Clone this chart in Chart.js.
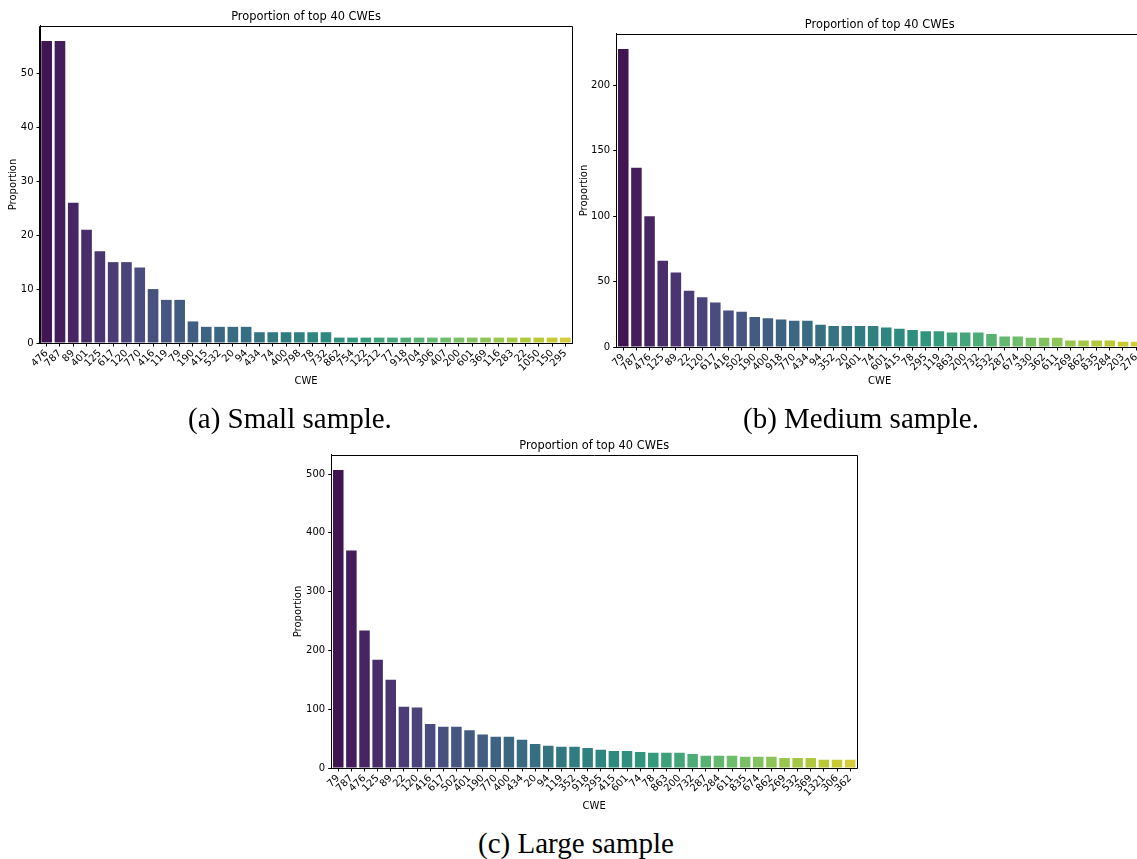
<!DOCTYPE html>
<html><head><meta charset="utf-8">
<script src="https://cdn.jsdelivr.net/npm/chart.js@4.4.1/dist/chart.umd.min.js"></script>
<style>
html,body{margin:0;padding:0;width:1137px;height:859px;overflow:hidden;background:#fff;}
canvas{position:absolute;}
.cap{position:absolute;font-family:"Liberation Serif","Times New Roman",serif;font-size:29px;line-height:29px;color:#000;white-space:nowrap;transform:translateX(-50%);}
</style></head><body>
<canvas id="ca" width="590" height="390" style="left:0px;top:0px"></canvas>
<canvas id="cb" width="590" height="382" style="left:572px;top:8px"></canvas>
<canvas id="cc" width="590" height="386" style="left:285px;top:429px"></canvas>
<div class="cap" style="left:290px;top:404px">(a) Small sample.</div>
<div class="cap" style="left:861px;top:404px">(b) Medium sample.</div>
<div class="cap" style="left:576px;top:829px">(c) Large sample</div>
<script>
const smallCwe = ['476','787','89','401','125','617','120','770','416','119','79','190','415','532','20','94','434','74','400','798','78','732','862','754','122','212','77','918','704','306','407','200','601','369','116','283','22','1050','150','295'];
const smallVal = [56,56,26,21,17,15,15,14,10,8,8,4,3,3,3,3,2,2,2,2,2,2,1,1,1,1,1,1,1,1,1,1,1,1,1,1,1,1,1,1];

const mediumCwe = ['79','787','476','125','89','22','120','617','416','502','190','400','918','770','434','94','352','20','401','74','601','415','78','295','119','863','200','732','532','287','674','330','362','611','269','862','835','284','203','276'];
const mediumVal = [228,137,100,66,57,43,38,34,28,27,23,22,21,20,20,17,16,16,16,16,15,14,13,12,12,11,11,11,10,8,8,7,7,7,5,5,5,5,4,4];

const largeCwe = ['79','787','476','125','89','22','120','416','617','502','401','190','770','400','434','20','94','119','352','918','295','415','601','74','78','863','200','732','287','284','611','835','674','862','269','532','369','1321','306','362'];
const largeVal = [507,370,234,184,150,104,103,75,70,70,64,57,53,53,48,41,38,36,36,34,31,29,29,27,26,26,26,24,21,21,21,19,19,19,17,17,17,14,14,14];

const titleText = 'Proportion of top 40 CWEs';
const xTitle = 'CWE';
const yTitle = 'Proportion';

// viridis colormap stops
const VIR = ['#440154','#471365','#482475','#463480','#414487','#3b528b','#355f8d','#2f6c8e','#2a788e','#25848e','#21918c','#1e9c89','#22a884','#2fb47c','#44bf70','#5ec962','#7ad151','#9bd93c','#bddf26','#dfe318','#fde725'];
function hex2rgb(h){return [parseInt(h.substr(1,2),16),parseInt(h.substr(3,2),16),parseInt(h.substr(5,2),16)];}
function viridis(t){
  const n=VIR.length-1, x=Math.min(Math.max(t,0),1)*n, i=Math.min(Math.floor(x),n-1), f=x-i;
  const a=hex2rgb(VIR[i]), b=hex2rgb(VIR[i+1]);
  return a.map((v,k)=>(v+(b[k]-v)*f)/255);
}
function rgb2hls(r,g,b){
  const mx=Math.max(r,g,b), mn=Math.min(r,g,b), l=(mx+mn)/2;
  if(mx===mn) return [0,l,0];
  const d=mx-mn, s = l<=0.5 ? d/(mx+mn) : d/(2-mx-mn);
  let h;
  if(mx===r) h=((g-b)/d)%6; else if(mx===g) h=(b-r)/d+2; else h=(r-g)/d+4;
  h/=6; if(h<0) h+=1;
  return [h,l,s];
}
function hue2rgb(p,q,t){if(t<0)t+=1;if(t>1)t-=1;if(t<1/6)return p+(q-p)*6*t;if(t<1/2)return q;if(t<2/3)return p+(q-p)*(2/3-t)*6;return p;}
function hls2rgb(h,l,s){
  if(s===0) return [l,l,l];
  const q = l<0.5 ? l*(1+s) : l+s-l*s, p=2*l-q;
  return [hue2rgb(p,q,h+1/3),hue2rgb(p,q,h),hue2rgb(p,q,h-1/3)];
}
function barColor(t){
  const [r,g,b]=viridis(t);
  const [h,l,s]=rgb2hls(r,g,b);
  const c=hls2rgb(h,l,s*0.75);
  return 'rgb('+c.map(v=>Math.round(v*255)).join(',')+')';
}

const FONT = '"DejaVu Sans", "Liberation Sans", sans-serif';

const frame = {id:'frame', afterDraw(c){
  const a=c.chartArea, ctx=c.ctx;
  ctx.save(); ctx.strokeStyle='#000'; ctx.lineWidth=1;
  const l=Math.round(a.left)-0.5, t=Math.round(a.top)+0.5, r=Math.round(a.right)+0.5, b=Math.round(a.bottom)+0.5;
  ctx.beginPath(); ctx.moveTo(l,b); ctx.lineTo(l,t); ctx.lineTo(r,t); ctx.lineTo(r,b); ctx.lineTo(l,b); ctx.stroke();
  ctx.restore();
}};

function makeChart(id, labels, values, step, g){
  const colors = values.map((v,i)=>barColor((i+1)/(values.length+1)));
  const vmax = Math.max(...values)*1.05;
  return new Chart(document.getElementById(id), {
    type:'bar',
    data:{labels:labels, datasets:[{data:values, backgroundColor:colors, borderWidth:0, barPercentage:0.8, categoryPercentage:1.0}]},
    options:{
      responsive:false, animation:false, devicePixelRatio:1,
      layout:{padding:{left:0,right:g.padRight,top:0,bottom:0}},
      plugins:{
        legend:{display:false}, tooltip:{enabled:false},
        title:{display:true, text:titleText, fullSize:false, color:'#000',
          font:{family:FONT,size:11.4,weight:'normal',lineHeight:1.2}, padding:{top:10.2,bottom:2.1}}
      },
      scales:{
        x:{
          type:'category', offset:true,
          grid:{display:true, drawOnChartArea:false, drawTicks:true, tickLength:3.5, color:'#000', lineWidth:1, offset:false},
          border:{display:true, color:'#000', width:1},
          ticks:{autoSkip:false, maxRotation:45, minRotation:45, color:'#000', font:{family:FONT,size:10}, padding:1},
          title:{display:true, text:xTitle, color:'#000', font:{family:FONT,size:10,lineHeight:1.2}, padding:{top:0,bottom:3}},
          afterFit:(s)=>{s.height=g.xH;}
        },
        y:{
          min:0, max:vmax,
          grid:{display:true, drawOnChartArea:false, drawTicks:true, tickLength:3.5, color:'#000', lineWidth:1},
          border:{display:true, color:'#000', width:1},
          ticks:{stepSize:step, color:'#000', font:{family:FONT,size:10}, padding:3},
          afterBuildTicks:(s)=>{s.ticks=s.ticks.filter(t=>Math.abs(t.value/step-Math.round(t.value/step))<1e-9);},
          title:{display:true, text:yTitle, color:'#000', font:{family:FONT,size:10,lineHeight:1.2}, padding:{top:g.yTitlePad,bottom:0}},
          afterFit:(s)=>{s.width=g.yW;}
        }
      }
    },
    plugins:[frame]
  });
}

makeChart('ca', smallCwe, smallVal, 10, {padRight:18, xH:47, yW:40, yTitlePad:7});
makeChart('cb', mediumCwe, mediumVal, 50, {padRight:19.3, xH:43, yW:44.7, yTitlePad:6});
makeChart('cc', largeCwe, largeVal, 100, {padRight:18.3, xH:47, yW:46.7, yTitlePad:7});
</script>
</body></html>
